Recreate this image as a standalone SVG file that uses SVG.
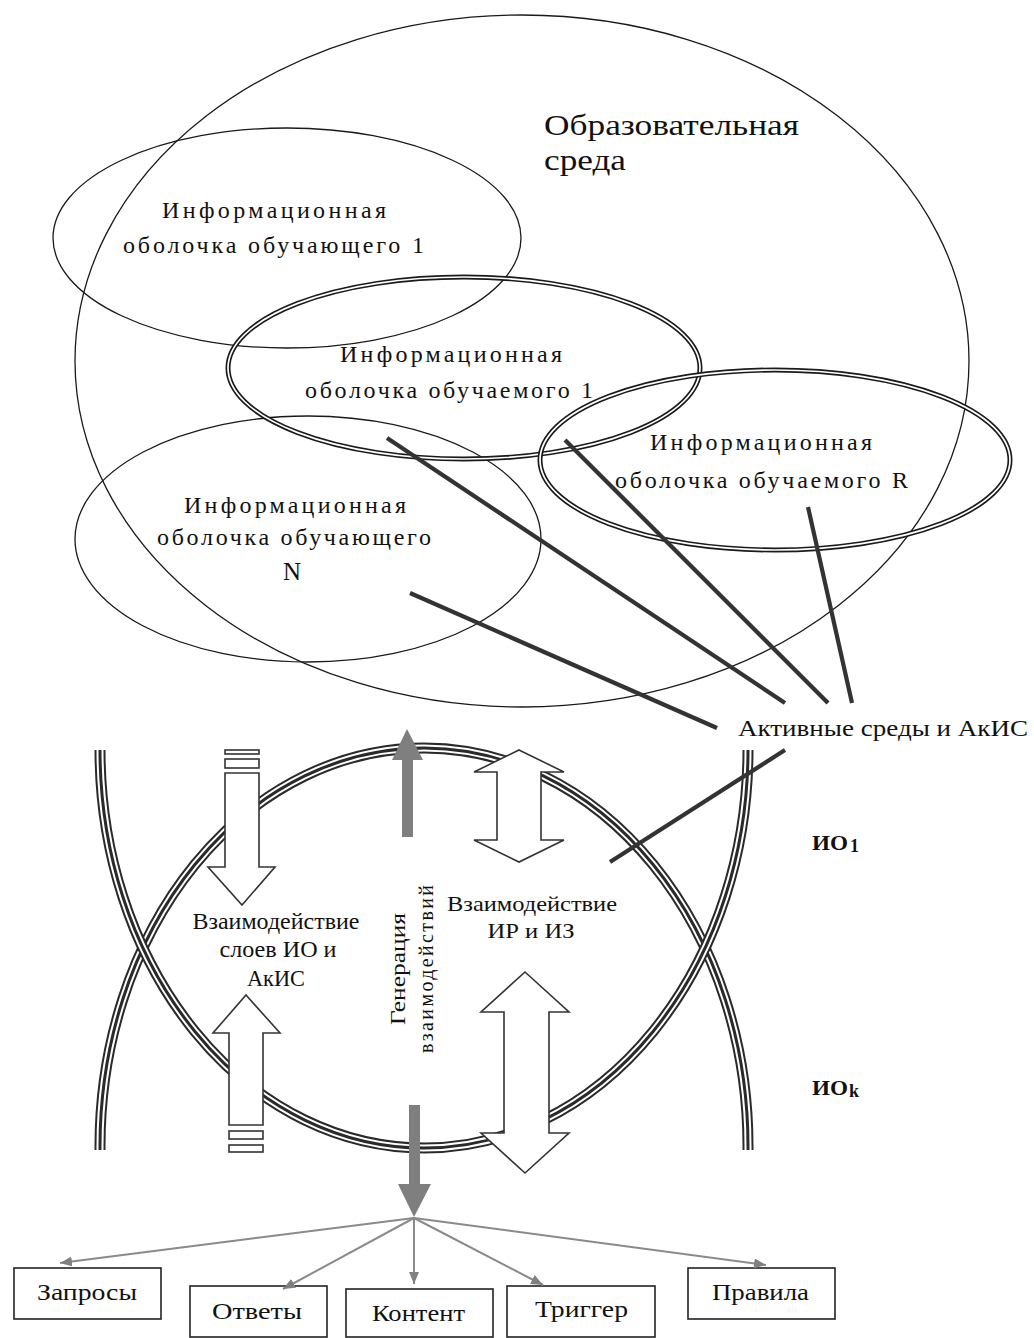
<svg xmlns="http://www.w3.org/2000/svg" width="1034" height="1338" viewBox="0 0 1034 1338">
  <defs>
    <style>
      .t { font-family: "Liberation Serif", "Times New Roman", serif; fill: #111; }
      .thin { fill: none; stroke: #1a1a1a; stroke-width: 1.3; }
      .dbl-o { fill: none; stroke: #1a1a1a; stroke-width: 5; }
      .dbl-i { fill: none; stroke: #fff; stroke-width: 1.7; }
      .tri-a { fill: none; stroke: #2a2a2a; stroke-width: 11; }
      .tri-b { fill: none; stroke: #fff; stroke-width: 7; }
      .tri-c { fill: none; stroke: #2a2a2a; stroke-width: 3; }
      .link { stroke: #333; stroke-width: 4.2; stroke-linecap: butt; }
      .hollow { fill: #fff; stroke: #333; stroke-width: 1.6; }
      .gray { fill: #7f7f7f; }
      .fan { stroke: #8a8a8a; stroke-width: 2; fill: none; }
      .box { fill: #fff; stroke: #222; stroke-width: 1.6; }
    </style>
    <marker id="head" viewBox="0 0 12 10" refX="12" refY="5" markerWidth="12" markerHeight="10" markerUnits="userSpaceOnUse" orient="auto">
      <path d="M0,0 L12,5 L0,10 Z" fill="#808080"/>
    </marker>
  </defs>

  <!-- Educational environment and information shells -->
  <g id="env">
    <ellipse class="thin" cx="522" cy="361" rx="447" ry="346"/>
    <text class="t" x="544" y="135" font-size="30" textLength="255" lengthAdjust="spacingAndGlyphs">Образовательная</text>
    <text class="t" x="544" y="170" font-size="30" textLength="82" lengthAdjust="spacingAndGlyphs">среда</text>
  </g>

  <g id="teacher1">
    <ellipse class="thin" cx="287" cy="238" rx="234" ry="110"/>
    <text class="t" x="162" y="218" font-size="24" textLength="224" lengthAdjust="spacing">Информационная</text>
    <text class="t" x="123" y="253" font-size="24" textLength="301" lengthAdjust="spacing">оболочка обучающего  1</text>
  </g>

  <g id="teacherN">
    <ellipse class="thin" cx="308" cy="539" rx="233" ry="123"/>
    <text class="t" x="184" y="513" font-size="24" textLength="222" lengthAdjust="spacing">Информационная</text>
    <text class="t" x="157" y="545" font-size="24" textLength="274" lengthAdjust="spacing">оболочка обучающего</text>
    <text class="t" x="283" y="580" font-size="25">N</text>
  </g>

  <g id="learner1">
    <ellipse class="dbl-o" cx="464" cy="368" rx="236" ry="91"/>
    <ellipse class="dbl-i" cx="464" cy="368" rx="236" ry="91"/>
    <text class="t" x="340" y="362" font-size="24" textLength="222" lengthAdjust="spacing">Информационная</text>
    <text class="t" x="305" y="398" font-size="24" textLength="288" lengthAdjust="spacing">оболочка обучаемого  1</text>
  </g>

  <g id="learnerR">
    <ellipse class="dbl-o" cx="775" cy="460" rx="235" ry="90"/>
    <ellipse class="dbl-i" cx="775" cy="460" rx="235" ry="90"/>
    <text class="t" x="650" y="450" font-size="24" textLength="222" lengthAdjust="spacing">Информационная</text>
    <text class="t" x="615" y="488" font-size="24" textLength="293" lengthAdjust="spacing">оболочка обучаемого R</text>
  </g>

  <!-- Interaction layers IO1 / IOk -->
  <g id="layers">
    <path class="tri-a" d="M100,1150 L100,1146 A324 398 0 0 1 748,1146 L748,1150"/>
    <path class="tri-b" d="M100,1150 L100,1146 A324 398 0 0 1 748,1146 L748,1150"/>
    <path class="tri-c" d="M100,1150 L100,1146 A324 398 0 0 1 748,1146 L748,1150"/>
    <path class="tri-a" d="M100,750 A324 398 0 0 0 748,750"/>
    <path class="tri-b" d="M100,750 A324 398 0 0 0 748,750"/>
    <path class="tri-c" d="M100,750 A324 398 0 0 0 748,750"/>
    <text class="t" x="812" y="850" font-size="22" font-weight="bold" textLength="36" lengthAdjust="spacingAndGlyphs">ИО</text>
    <text class="t" x="850" y="852" font-size="18" font-weight="bold">1</text>
    <text class="t" x="812" y="1095" font-size="22" font-weight="bold" textLength="36" lengthAdjust="spacingAndGlyphs">ИО</text>
    <text class="t" x="849" y="1097" font-size="18" font-weight="bold">k</text>
  </g>

  <!-- Layer interaction arrows -->
  <g id="layer-in">
    <rect class="hollow" x="225" y="750" width="34" height="4"/>
    <rect class="hollow" x="225" y="759" width="34" height="9"/>
    <polygon class="hollow" points="225,773 259,773 259,867 275,867 242,905 208,867 225,867"/>
  </g>
  <g id="layer-out">
    <polygon class="hollow" points="246,995 280,1033 263,1033 263,1125 229,1125 229,1033 213,1033"/>
    <rect class="hollow" x="229" y="1131" width="34" height="8"/>
    <rect class="hollow" x="229" y="1145" width="34" height="7"/>
  </g>
  <g id="layer-label">
    <text class="t" x="276" y="929" font-size="23" text-anchor="middle" textLength="167" lengthAdjust="spacingAndGlyphs">Взаимодействие</text>
    <text class="t" x="278" y="957" font-size="23" text-anchor="middle" textLength="117" lengthAdjust="spacingAndGlyphs">слоев ИО и</text>
    <text class="t" x="276" y="986" font-size="23" text-anchor="middle" textLength="58" lengthAdjust="spacingAndGlyphs">АкИС</text>
  </g>

  <g id="generation">
    <polygon class="gray" points="402,837 413,837 413,760 423,760 407,729 392,760 402,760"/>
    <text class="t" transform="translate(405,1025) rotate(-90)" font-size="22" textLength="112" lengthAdjust="spacingAndGlyphs">Генерация</text>
    <text class="t" transform="translate(433,1053) rotate(-90)" font-size="20" textLength="168" lengthAdjust="spacing">взаимодействий</text>
    <polygon class="gray" points="409,1105 420,1105 420,1184 431,1184 414,1217 398,1184 409,1184"/>
  </g>

  <g id="ir-iz">
    <polygon class="hollow" points="519,750 564,772 541,772 541,840 564,840 519,862 474,840 497,840 497,772 474,772"/>
    <polygon class="hollow" points="525,972 569,1012 549,1012 549,1133 569,1133 525,1173 481,1133 504,1133 504,1012 481,1012"/>
    <text class="t" x="532" y="911" font-size="22" text-anchor="middle" textLength="170" lengthAdjust="spacingAndGlyphs">Взаимодействие</text>
    <text class="t" x="531" y="938" font-size="22" text-anchor="middle" textLength="87" lengthAdjust="spacingAndGlyphs">ИР и ИЗ</text>
  </g>

  <g id="active">
    <text class="t" x="738" y="736" font-size="24" textLength="290" lengthAdjust="spacingAndGlyphs">Активные среды и АкИС</text>
  </g>

  <!-- Output boxes -->
  <g id="requests">
    <rect class="box" x="14" y="1268" width="147" height="51"/>
    <text class="t" x="37" y="1300" font-size="24" textLength="100" lengthAdjust="spacingAndGlyphs">Запросы</text>
  </g>
  <g id="answers">
    <rect class="box" x="190" y="1286" width="137" height="51"/>
    <text class="t" x="212" y="1319" font-size="24" textLength="90" lengthAdjust="spacingAndGlyphs">Ответы</text>
  </g>
  <g id="content">
    <rect class="box" x="346" y="1289" width="147" height="48"/>
    <text class="t" x="372" y="1321" font-size="24" textLength="93" lengthAdjust="spacingAndGlyphs">Контент</text>
  </g>
  <g id="trigger">
    <rect class="box" x="507" y="1286" width="148" height="51"/>
    <text class="t" x="535" y="1317" font-size="24" textLength="93" lengthAdjust="spacingAndGlyphs">Триггер</text>
  </g>
  <g id="rules">
    <rect class="box" x="688" y="1268" width="147" height="51"/>
    <text class="t" x="712" y="1300" font-size="24" textLength="97" lengthAdjust="spacingAndGlyphs">Правила</text>
  </g>

  <!-- Connectors -->
  <g id="connectors">
    <line class="link" x1="410" y1="593" x2="717" y2="728"/>
    <line class="link" x1="387" y1="438" x2="785" y2="703"/>
    <line class="link" x1="565" y1="440" x2="828" y2="703"/>
    <line class="link" x1="808" y1="507" x2="852" y2="703"/>
    <line class="link" x1="785" y1="750" x2="610" y2="862"/>
    <line class="fan" x1="414" y1="1218" x2="60" y2="1263" marker-end="url(#head)"/>
    <line class="fan" x1="414" y1="1218" x2="283" y2="1289" marker-end="url(#head)"/>
    <line class="fan" x1="414" y1="1218" x2="414" y2="1284" marker-end="url(#head)"/>
    <line class="fan" x1="414" y1="1218" x2="543" y2="1285" marker-end="url(#head)"/>
    <line class="fan" x1="414" y1="1218" x2="766" y2="1265" marker-end="url(#head)"/>
  </g>
</svg>
